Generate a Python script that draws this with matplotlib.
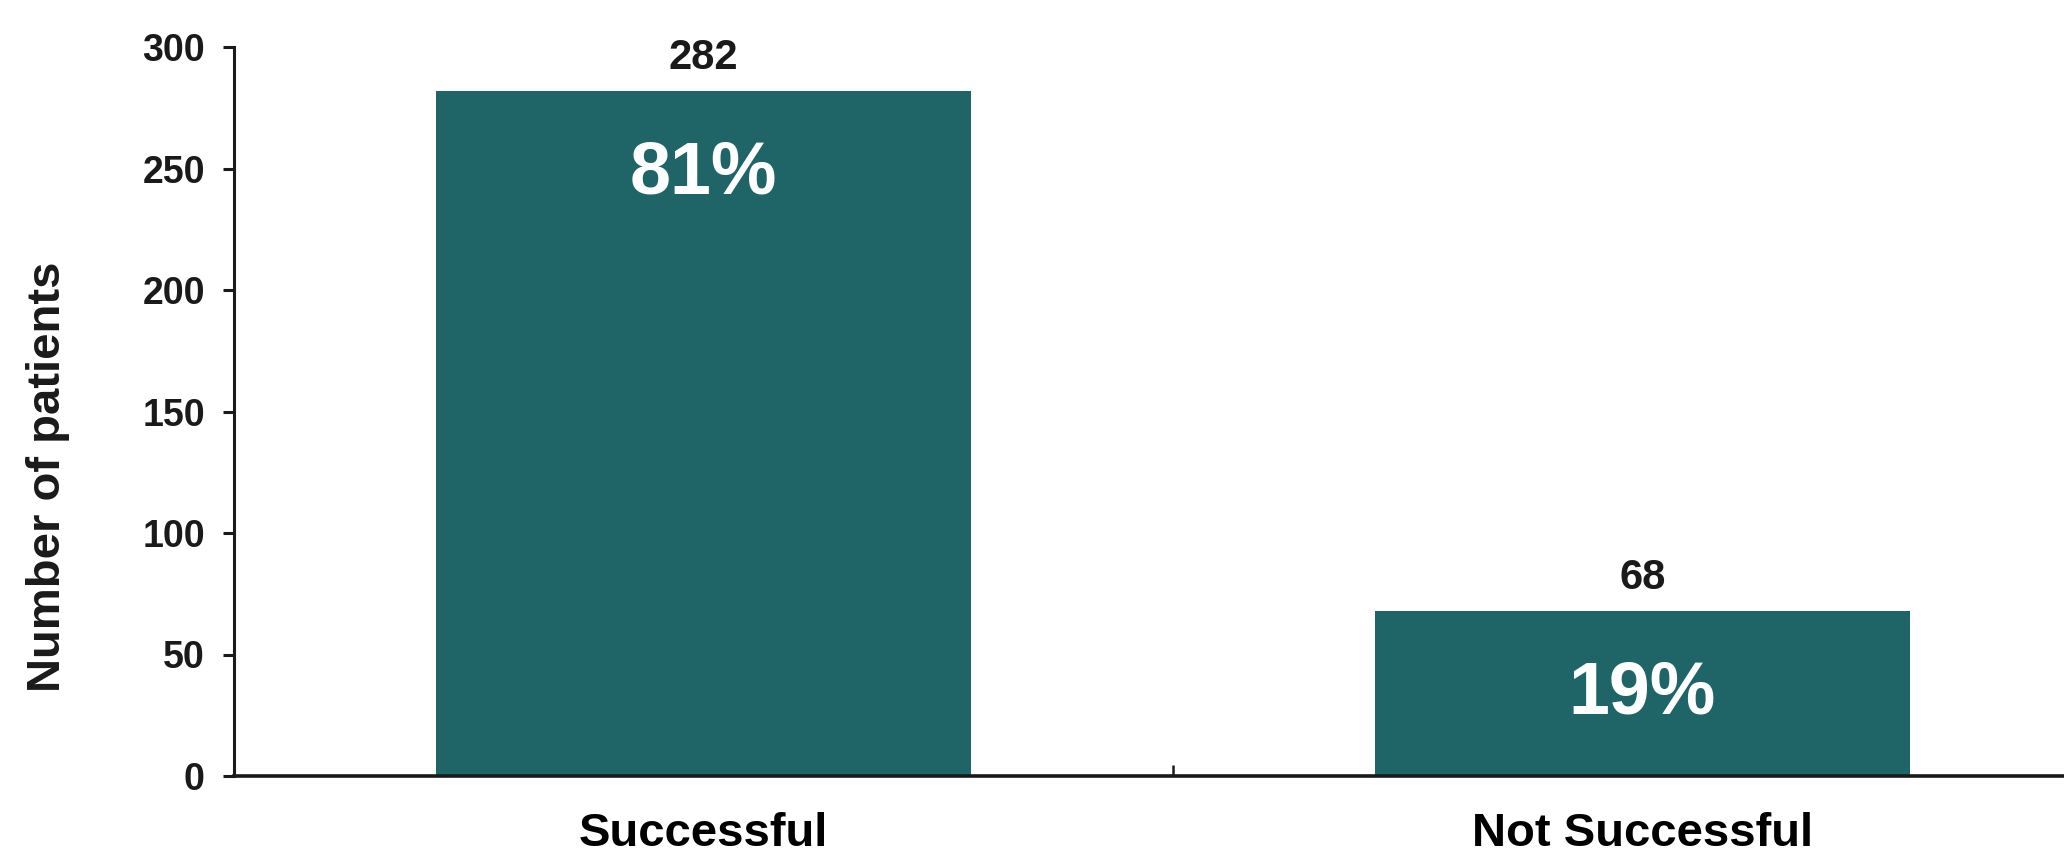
import numpy as np
import matplotlib
matplotlib.use("Agg")
import matplotlib.pyplot as plt
from matplotlib.ticker import FixedLocator

plt.rcParams['font.family'] = ['Liberation Sans', 'DejaVu Sans']
plt.rcParams['font.weight'] = 'bold'

# Data
categories = ["Successful", "Not Successful"]
patients = [282, 68]
percents = ["81%", "19%"]

bar_color = "#1f6466"
ink = "#1a1a1a"

fig = plt.figure(figsize=(20.64, 8.57), dpi=100)
ax = fig.add_axes([234 / 2064, 81 / 857, 1 - 234 / 2064, (776 - 47) / 857])

x = np.arange(len(categories))
bars = ax.bar(x, patients, width=0.57, color=bar_color, zorder=2)

ax.set_xlim(-0.5, 1.449)
ax.set_ylim(0, 300)
ax.set_yticks(np.arange(0, 301, 50))

# counts above bars, percentages inside
for xi, v, p in zip(x, patients, percents):
    ax.annotate(str(v), (xi, v), xytext=(0, 9), textcoords="offset points",
                ha="center", va="bottom", fontsize=30, fontweight="bold", color=ink)
    ax.annotate(p, (xi, v), xytext=(0, -60), textcoords="offset points",
                ha="center", va="center", fontsize=53, fontweight="bold", color="white")

# axes styling
for s in ["top", "right"]:
    ax.spines[s].set_visible(False)
ax.spines["left"].set_linewidth(2.2)
ax.spines["bottom"].set_linewidth(2.6)
ax.spines["left"].set_color(ink)
ax.spines["bottom"].set_color(ink)

ax.tick_params(axis="y", direction="out", length=8, width=2.2, pad=13,
               labelsize=27, colors=ink)
ax.set_xticks(x)
ax.set_xticklabels(categories, fontsize=34, fontweight="bold", color="black")
ax.tick_params(axis="x", which="major", length=0, pad=26)
ax.xaxis.set_minor_locator(FixedLocator([0.5]))
ax.tick_params(axis="x", which="minor", direction="in", length=8, width=1.8, color=ink)

ax.set_ylabel("Number of patients", fontsize=34, fontweight="bold", color=ink)
ax.yaxis.set_label_coords(-0.0896, 0.41)

fig.savefig("out.png", dpi=100)
